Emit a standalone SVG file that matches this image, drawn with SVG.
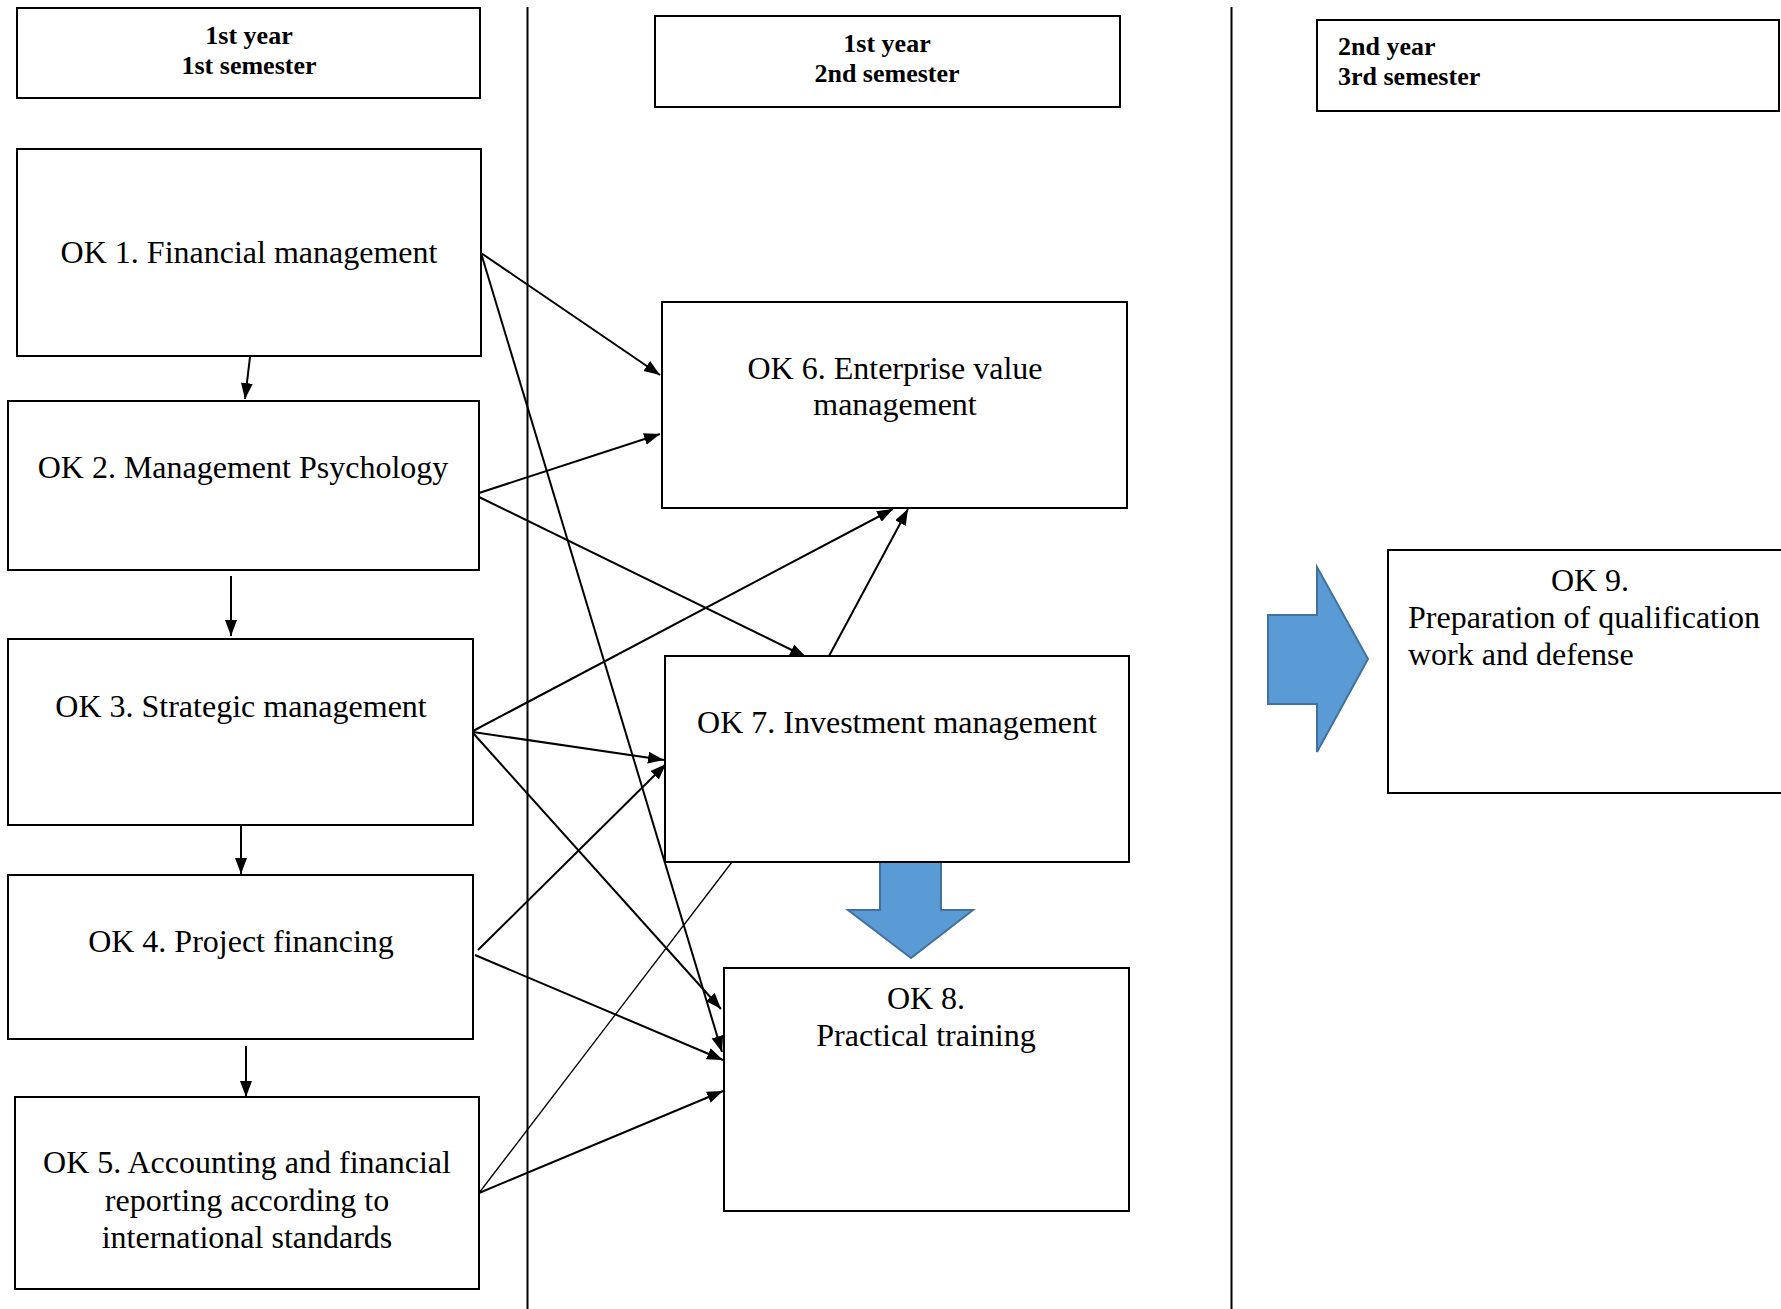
<svg xmlns="http://www.w3.org/2000/svg" width="1781" height="1309" viewBox="0 0 1781 1309">
<style>
.box{fill:#fff;stroke:#000;stroke-width:2}
.t{font-family:"Liberation Serif","Times New Roman",serif;font-size:32px;fill:#000}
.h{font-family:"Liberation Serif","Times New Roman",serif;font-size:26px;font-weight:bold;fill:#000}
.c{stroke:#000;stroke-width:2;fill:none}
.thin{stroke:#000;stroke-width:1.3;fill:none}
.blk{fill:#5B9BD5;stroke:#41719C;stroke-width:2}
</style>
<defs>
<marker id="ah" markerUnits="userSpaceOnUse" markerWidth="17" markerHeight="13" refX="16" refY="6" orient="auto">
<path d="M0,0 L16,6 L0,12 z" fill="#000"/>
</marker>
</defs>
<rect width="1781" height="1309" fill="#fff"/>
<g id="dividers">
<line x1="527.5" y1="7" x2="527.5" y2="1309" stroke="#000" stroke-width="2"/>
<line x1="1231.5" y1="7" x2="1231.5" y2="1309" stroke="#000" stroke-width="2"/>
</g>
<g id="header1"><rect class="box" x="17" y="8" width="463" height="90"/>
<text class="h" x="249" y="44" text-anchor="middle">1st year</text>
<text class="h" x="249" y="74" text-anchor="middle">1st semester</text></g>
<g id="header2"><rect class="box" x="655" y="16" width="465" height="91"/>
<text class="h" x="887" y="52" text-anchor="middle">1st year</text>
<text class="h" x="887" y="82" text-anchor="middle">2nd semester</text></g>
<g id="header3"><rect class="box" x="1317" y="20" width="462" height="91"/>
<text class="h" x="1338" y="55">2nd year</text>
<text class="h" x="1338" y="85">3rd semester</text></g>

<g id="connectors">
<line class="c" x1="250" y1="357" x2="245" y2="399" marker-end="url(#ah)"/>
<line class="c" x1="231" y1="576" x2="231" y2="636" marker-end="url(#ah)"/>
<line class="c" x1="241" y1="825" x2="241" y2="874" marker-end="url(#ah)"/>
<line class="c" x1="246" y1="1046" x2="246" y2="1097" marker-end="url(#ah)"/>
<line class="c" x1="481" y1="253" x2="660" y2="375" marker-end="url(#ah)"/>
<line class="c" x1="481" y1="253" x2="722" y2="1052" marker-end="url(#ah)"/>
<line class="c" x1="479" y1="493" x2="660" y2="434" marker-end="url(#ah)"/>
<line class="c" x1="479" y1="497" x2="806" y2="657" marker-end="url(#ah)"/>
<line class="c" x1="473" y1="731" x2="893" y2="509" marker-end="url(#ah)"/>
<line class="c" x1="473" y1="732" x2="664" y2="760" marker-end="url(#ah)"/>
<line class="c" x1="473" y1="733" x2="721" y2="1009" marker-end="url(#ah)"/>
<line class="c" x1="478" y1="950" x2="666" y2="764" marker-end="url(#ah)"/>
<line class="c" x1="475" y1="955" x2="723" y2="1060" marker-end="url(#ah)"/>
<line class="c" x1="479" y1="1193" x2="723" y2="1091" marker-end="url(#ah)"/>
<line class="thin" x1="479" y1="1193" x2="732" y2="862"/>
<line class="c" x1="829" y1="656" x2="908" y2="509" marker-end="url(#ah)"/>
<path class="blk" d="M880,862 L941,862 L941,910 L973,910 L911,958 L848,910 L880,910 Z"/>
<path class="blk" d="M1268,615 L1317,615 L1317,567 L1368,659 L1317,752 L1317,704 L1268,704 Z"/>
</g>

<g id="ok1"><rect class="box" x="17" y="149" width="464" height="207"/>
<text class="t" x="249" y="263" text-anchor="middle">OK 1. Financial management</text></g>
<g id="ok2"><rect class="box" x="8" y="401" width="471" height="169"/>
<text class="t" x="243" y="478" text-anchor="middle">OK 2. Management Psychology</text></g>
<g id="ok3"><rect class="box" x="8" y="639" width="465" height="186"/>
<text class="t" x="241" y="717" text-anchor="middle">OK 3. Strategic management</text></g>
<g id="ok4"><rect class="box" x="8" y="875" width="465" height="164"/>
<text class="t" x="241" y="952" text-anchor="middle">OK 4. Project financing</text></g>
<g id="ok5"><rect class="box" x="15" y="1097" width="464" height="192"/>
<text class="t" x="247" y="1173" text-anchor="middle">OK 5. Accounting and financial</text>
<text class="t" x="247" y="1211" text-anchor="middle">reporting according to</text>
<text class="t" x="247" y="1248" text-anchor="middle">international standards</text></g>
<g id="ok6"><rect class="box" x="662" y="302" width="465" height="206"/>
<text class="t" x="895" y="379" text-anchor="middle">OK 6. Enterprise value</text>
<text class="t" x="895" y="415" text-anchor="middle">management</text></g>
<g id="ok7"><rect class="box" x="665" y="656" width="464" height="206"/>
<text class="t" x="897" y="733" text-anchor="middle">OK 7. Investment management</text></g>
<g id="ok8"><rect class="box" x="724" y="968" width="405" height="243"/>
<text class="t" x="926" y="1009" text-anchor="middle">OK 8.</text>
<text class="t" x="926" y="1046" text-anchor="middle">Practical training</text></g>
<g id="ok9"><rect class="box" x="1388" y="550" width="420" height="243"/>
<text class="t" x="1590" y="591" text-anchor="middle">OK 9.</text>
<text class="t" x="1408" y="628">Preparation of qualification</text>
<text class="t" x="1408" y="665">work and defense</text></g>
</svg>
